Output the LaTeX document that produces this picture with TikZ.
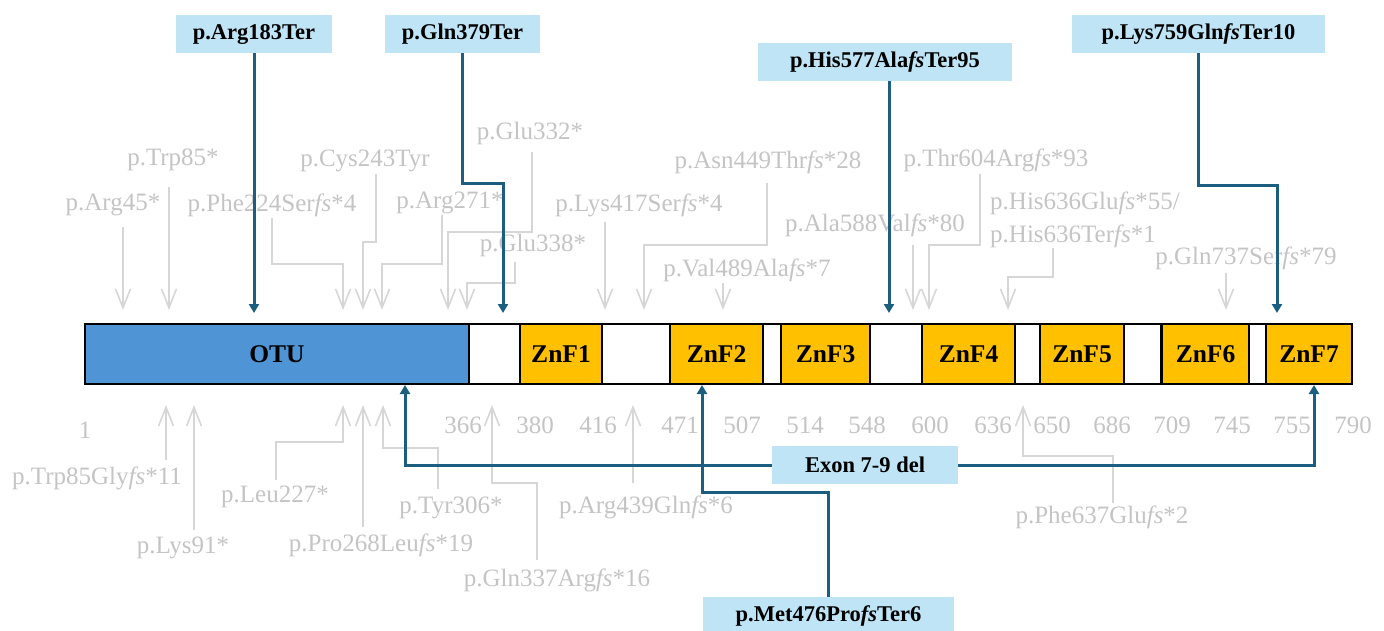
\documentclass[tikz,border=0pt]{standalone}
\usepackage{fontspec}
\setmainfont{Liberation Serif}
\usetikzlibrary{arrows.meta}

\definecolor{otublue}{RGB}{79,148,212}
\definecolor{znfgold}{RGB}{255,192,0}
\definecolor{tagblue}{RGB}{190,228,245}
\definecolor{linkblue}{RGB}{27,94,128}
\definecolor{labgray}{RGB}{196,196,196}
\definecolor{arrgray}{RGB}{214,214,214}

\tikzset{
  dom/.style={draw=black, line width=1.5pt, minimum height=60pt, inner sep=0pt,
              font=\bfseries\fontsize{25.5}{30}\selectfont},
  glab/.style={text=labgray, inner sep=0pt, font=\fontsize{25}{33}\selectfont},
  num/.style={text=labgray, inner sep=0pt, font=\fontsize{25}{30}\selectfont},
  tag/.style={fill=tagblue, inner sep=0pt, minimum height=38pt,
              font=\bfseries\fontsize{22.5}{27}\selectfont},
  garrow/.style={draw=arrgray, line width=1.6pt,
                 -{Straight Barb[length=19pt,width=15pt]}},
  barrow/.style={draw=linkblue, line width=3pt,
                 -{Triangle[length=9pt,width=10pt]}}
}

\begin{document}
\begin{tikzpicture}[x=1pt,y=-1pt]
\useasboundingbox (0,0) rectangle (1384,630);

% protein bar
\node[dom, fill=otublue, minimum width=384pt] (otu) at (277,354) {OTU};
\node[dom, fill=white,   minimum width=51pt]  (l1) at (494.5,354) {};
\node[dom, fill=znfgold, minimum width=82pt]  (z1) at (561,354) {ZnF1};
\node[dom, fill=white,   minimum width=68pt]  (l2) at (636,354) {};
\node[dom, fill=znfgold, minimum width=93pt]  (z2) at (716.5,354) {ZnF2};
\node[dom, fill=white,   minimum width=18pt]  (l3) at (772,354) {};
\node[dom, fill=znfgold, minimum width=89pt]  (z3) at (825.5,354) {ZnF3};
\node[dom, fill=white,   minimum width=52pt]  (l4) at (896,354) {};
\node[dom, fill=znfgold, minimum width=93pt]  (z4) at (968.5,354) {ZnF4};
\node[dom, fill=white,   minimum width=25pt]  (l5) at (1027.5,354) {};
\node[dom, fill=znfgold, minimum width=84pt]  (z5) at (1082,354) {ZnF5};
\node[dom, fill=white,   minimum width=37pt]  (l6) at (1142.5,354) {};
\node[dom, fill=znfgold, minimum width=87pt]  (z6) at (1205.5,354) {ZnF6};
\node[dom, fill=white,   minimum width=17pt]  (l7) at (1257.5,354) {};
\node[dom, fill=znfgold, minimum width=86pt]  (z7) at (1309,354) {ZnF7};

% residue numbers
\node[num] (n1)   at (85,430)   {1};
\node[num] (n366) at (463,425)  {366};
\node[num] (n380) at (535,425)  {380};
\node[num] (n416) at (598,425)  {416};
\node[num] (n471) at (680,425)  {471};
\node[num] (n507) at (742,425)  {507};
\node[num] (n514) at (805,425)  {514};
\node[num] (n548) at (867,425)  {548};
\node[num] (n600) at (930,425)  {600};
\node[num] (n636) at (993,425)  {636};
\node[num] (n650) at (1052,425) {650};
\node[num] (n686) at (1112,425) {686};
\node[num] (n709) at (1172,425) {709};
\node[num] (n745) at (1232,425) {745};
\node[num] (n755) at (1292,425) {755};
\node[num] (n790) at (1353,425) {790};

% reported variants above the bar
\node[glab] (a45)  at (113,205)  {p.Arg45*};
\node[glab] (a85)  at (173,160)  {p.Trp85*};
\node[glab] (a224) at (272,205)  {p.Phe224Ser\textit{fs}*4};
\node[glab] (a243) at (365,161)  {p.Cys243Tyr};
\node[glab] (a271) at (450,203)  {p.Arg271*};
\node[glab] (a332) at (530,133)  {p.Glu332*};
\node[glab] (a338) at (533,245)  {p.Glu338*};
\node[glab] (a417) at (639,205)  {p.Lys417Ser\textit{fs}*4};
\node[glab] (a449) at (768,162)  {p.Asn449Thr\textit{fs}*28};
\node[glab] (a489) at (747,270)  {p.Val489Ala\textit{fs}*7};
\node[glab] (a588) at (875,225)  {p.Ala588Val\textit{fs}*80};
\node[glab] (a604) at (996,160)  {p.Thr604Arg\textit{fs}*93};
\node[glab, align=left, anchor=west] (a636) at (990,220)
  {p.His636Glu\textit{fs}*55/\\p.His636Ter\textit{fs}*1};
\node[glab] (a737) at (1246,258) {p.Gln737Ser\textit{fs}*79};

\draw[garrow] (123,227) -- (123,310);
\draw[garrow] (169,187) -- (169,310);
\draw[garrow] (272,218) -- (272,264) -- (343,264) -- (343,310);
\draw[garrow] (376,174) -- (376,242) -- (363,242) -- (363,310);
\draw[garrow] (442,215) -- (442,264) -- (382,264) -- (382,310);
\draw[garrow] (532,152) -- (532,232) -- (448,232) -- (448,310);
\draw[garrow] (515,262) -- (515,283) -- (467,283) -- (467,310);
\draw[garrow] (605,222) -- (605,310);
\draw[garrow] (767,183) -- (767,245) -- (644,245) -- (644,310);
\draw[garrow] (723,283) -- (723,310);
\draw[garrow] (913,245) -- (913,310);
\draw[garrow] (980,174) -- (980,245) -- (929,245) -- (929,310);
\draw[garrow] (1053,248) -- (1053,277) -- (1008,277) -- (1008,310);
\draw[garrow] (1226,273) -- (1226,310);

% reported variants below the bar
\node[glab] (b85)  at (97,478)   {p.Trp85Gly\textit{fs}*11};
\node[glab] (b91)  at (183,548)  {p.Lys91*};
\node[glab] (b227) at (275,497)  {p.Leu227*};
\node[glab] (b268) at (381,545)  {p.Pro268Leu\textit{fs}*19};
\node[glab] (b306) at (451,508)  {p.Tyr306*};
\node[glab] (b337) at (557,580)  {p.Gln337Arg\textit{fs}*16};
\node[glab] (b439) at (646,507)  {p.Arg439Gln\textit{fs}*6};
\node[glab] (b637) at (1102,517) {p.Phe637Glu\textit{fs}*2};

\draw[garrow] (166,460) -- (166,405);
\draw[garrow] (194,530) -- (194,405);
\draw[garrow] (276,480) -- (276,442) -- (343,442) -- (343,405);
\draw[garrow] (363,527) -- (363,405);
\draw[garrow] (438,489) -- (438,448) -- (383,448) -- (383,405);
\draw[garrow] (537,560) -- (537,483) -- (492,483) -- (492,405);
\draw[garrow] (633,483) -- (633,405);
\draw[garrow] (1113,503) -- (1113,456) -- (1023,456) -- (1023,405);

% new variants
\node[tag, minimum width=156pt] (arg) at (254,34)   {p.Arg183Ter};
\node[tag, minimum width=155pt] (gln) at (462.5,34) {p.Gln379Ter};
\node[tag, minimum width=254pt] (his) at (885,61.5) {p.His577Ala\textit{fs}Ter95};
\node[tag, minimum width=253pt] (lys) at (1198.5,34) {p.Lys759Gln\textit{fs}Ter10};
\node[tag, minimum width=186pt] (exon) at (865,465) {Exon 7-9 del};
\node[tag, minimum width=251pt] (met) at (828.5,616) {p.Met476Pro\textit{fs}Ter6};

\coordinate (tt) at (0,313);
\coordinate (bb) at (0,385);

\draw[barrow] (arg.south) -- (arg.south |- tt);
\draw[barrow] (gln.south) |- (503,183) -- (503,313);
\draw[barrow] ([xshift=4pt]his.south) -- ([xshift=4pt]his.south |- tt);
\draw[barrow] (lys.south) |- (1277,185) -- (1277,313);
\draw[barrow] (exon.west) -| (405,385);
\draw[barrow] (exon.east) -| (1314,385);
\draw[barrow] (met.north) |- (702,492) -- (702,385);
\end{tikzpicture}
\end{document}
